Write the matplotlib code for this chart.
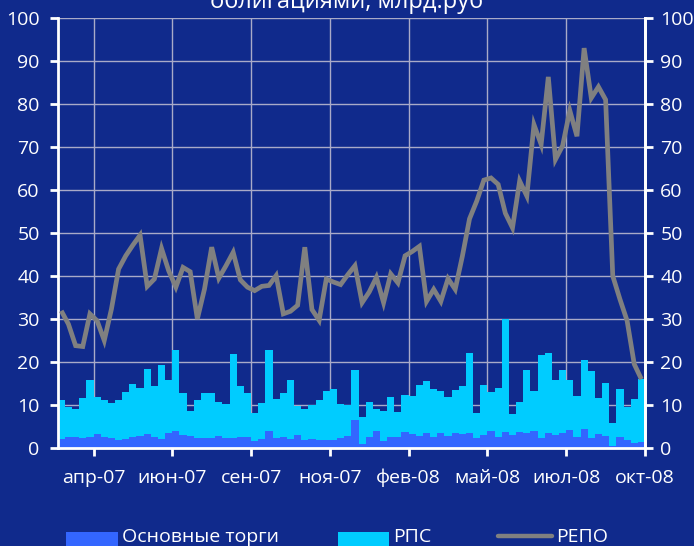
import matplotlib
matplotlib.use('Agg')
import matplotlib.pyplot as plt
import numpy as np
from matplotlib.patches import Rectangle
from matplotlib.lines import Line2D

plt.rcParams['font.family'] = ['Open Sans', 'DejaVu Sans']

tick_labels = ['апр-07', 'июн-07', 'сен-07', 'ноя-07', 'фев-08', 'май-08', 'июл-08', 'окт-08']

main_trade = [2.0, 2.6, 2.6, 2.3, 2.6, 3.2, 2.6, 2.3, 1.9, 2.0, 2.6, 2.8, 3.2, 2.6, 2.0, 3.4,
              3.9, 3.0, 2.7, 2.3, 2.3, 2.3, 2.7, 2.3, 2.3, 2.6, 2.6, 1.6, 2.0, 3.9, 2.3, 2.5,
              2.0, 3.0, 1.8, 2.0, 1.8, 1.8, 1.8, 2.3, 2.7, 6.5, 0.9, 2.5, 3.9, 1.6, 2.5, 2.5,
              3.7, 3.2, 2.7, 3.4, 2.5, 3.4, 2.7, 3.4, 3.2, 3.4, 2.3, 3.0, 3.9, 2.5, 3.7, 3.0,
              3.7, 3.4, 3.9, 2.3, 3.4, 3.0, 3.4, 4.1, 2.5, 4.4, 2.3, 3.2, 2.7, 0.4, 2.5, 1.8,
              1.1, 1.3]

rps = [9.25, 7.0, 6.5, 9.3, 13.1, 8.7, 8.65, 8.2, 9.3, 11.0, 12.3, 11.2, 15.1, 11.9, 17.4, 12.5,
       19.0, 9.8, 5.9, 8.95, 10.5, 10.5, 8.0, 7.9, 19.6, 11.9, 10.2, 6.5, 8.5, 19.0, 9.1, 10.3,
       13.9, 6.8, 7.3, 8.0, 9.4, 11.5, 11.95, 7.9, 7.3, 11.7, 6.3, 8.2, 5.2, 7.0, 9.4, 5.9,
       8.6, 8.9, 12.0, 12.2, 11.25, 9.9, 9.2, 10.1, 11.3, 18.8, 5.8, 11.7, 9.1, 11.5, 26.4, 4.9,
       7.0, 14.8, 9.4, 19.4, 18.8, 12.9, 14.8, 11.8, 9.6, 16.1, 15.7, 8.4, 12.5, 5.4, 11.25, 7.8,
       10.3, 14.8]

repo = [31.9, 28.8, 23.8, 23.6, 31.2, 29.6, 25.0, 32.3, 41.6, 44.7, 47.2, 49.5, 37.6, 39.3,
        46.4, 41.2, 37.4, 42.0, 41.0, 30.0, 37.0, 46.7, 39.5, 42.4, 45.5, 39.1, 37.4, 36.6,
        37.6, 37.8, 40.1, 31.2, 31.8, 33.2, 46.7, 32.2, 29.7, 39.3, 38.6, 38.0, 40.3, 42.4,
        33.8, 36.3, 39.7, 33.8, 40.5, 38.4, 44.7, 45.7, 46.9, 34.1, 36.9, 34.1,
        39.4, 36.9, 44.6, 53.3, 57.4, 62.3, 62.8, 61.3, 54.6, 51.2, 62.1, 58.6, 75.2, 70.6,
        86.3, 67.1, 70.3, 78.5, 72.5, 93.0, 81.4, 84.0, 81.0, 40.0, 34.6, 29.6, 19.5, 16.0]

BG = '#102a8c'
C_MAIN = '#3366ff'
C_RPS = '#00ccff'
C_REPO = '#808080'
GRID = '#a9aac8'

W, H = 694, 546
fig = plt.figure(figsize=(W / 100, H / 100), dpi=100, facecolor=BG)
ax = fig.add_axes([57.7 / W, 1 - 448 / H, (645 - 57.7) / W, (448 - 18) / H], facecolor=BG)

x = np.arange(len(main_trade))
ax.bar(x, main_trade, width=1.0, color=C_MAIN, linewidth=0, zorder=2)
ax.bar(x, rps, width=1.0, bottom=main_trade, color=C_RPS, linewidth=0, zorder=2)
ax.plot(x, repo, color=C_REPO, lw=3.4, zorder=3, solid_joinstyle='miter', solid_capstyle='butt')

n = len(x)
ax.set_xlim(-0.5, n - 0.5)
ax.set_ylim(0, 100)
yt = np.arange(0, 101, 10)
ax.set_yticks(yt)
ax.set_yticklabels([str(v) for v in yt])
xt = 4.5 + 11 * np.arange(len(tick_labels))
ax.set_xticks(xt)
ax.set_xticklabels(tick_labels)

for v in yt[1:]:
    ax.axhline(v, color=GRID, lw=1.0, zorder=1)
for v in xt:
    ax.axvline(v, color=GRID, lw=1.0, zorder=1)

for s in ['left', 'right', 'bottom']:
    ax.spines[s].set_color('white')
    ax.spines[s].set_linewidth(2)
ax.spines['top'].set_visible(False)

ax.tick_params(axis='y', colors='white', labelcolor='white', labelsize=14, length=6, width=2, pad=7)
ax.tick_params(axis='x', colors='white', labelcolor='white', labelsize=14, length=6, width=2, pad=9)

ax2 = ax.twinx()
ax2.set_ylim(0, 100)
ax2.set_yticks(yt)
ax2.set_yticklabels([str(v) for v in yt])
ax2.tick_params(axis='y', colors='white', labelcolor='white', labelsize=14, length=6, width=2, pad=5)
for s in ax2.spines.values():
    s.set_visible(False)
ax2.spines['right'].set_visible(True)
ax2.spines['right'].set_color('white')
ax2.spines['right'].set_linewidth(2)

fig.text(0.5, 1 - 8 / H, 'облигациями, млрд.руб', color='white', fontsize=17,
         ha='center', va='baseline')

# legend (partially cut off at the bottom, as in the reference)
ly = 1 - 532 / H
fig.patches.append(Rectangle((66 / W, 0), (118 - 66) / W, ly, transform=fig.transFigure,
                             facecolor=C_MAIN, edgecolor='none'))
fig.patches.append(Rectangle((338 / W, 0), (389 - 338) / W, ly, transform=fig.transFigure,
                             facecolor=C_RPS, edgecolor='none'))
fig.lines.append(Line2D([498 / W, 552 / W], [1 - 536 / H] * 2, transform=fig.transFigure,
                        color=C_REPO, lw=3.2, solid_capstyle='round'))
ty = 1 - 528 / H
fig.text(122 / W, ty, 'Основные торги', color='white', fontsize=14, va='top', ha='left')
fig.text(393 / W, ty, 'РПС', color='white', fontsize=14, va='top', ha='left')
fig.text(556 / W, ty, 'РЕПО', color='white', fontsize=14, va='top', ha='left')

fig.savefig('out.png', dpi=100, facecolor=BG)
